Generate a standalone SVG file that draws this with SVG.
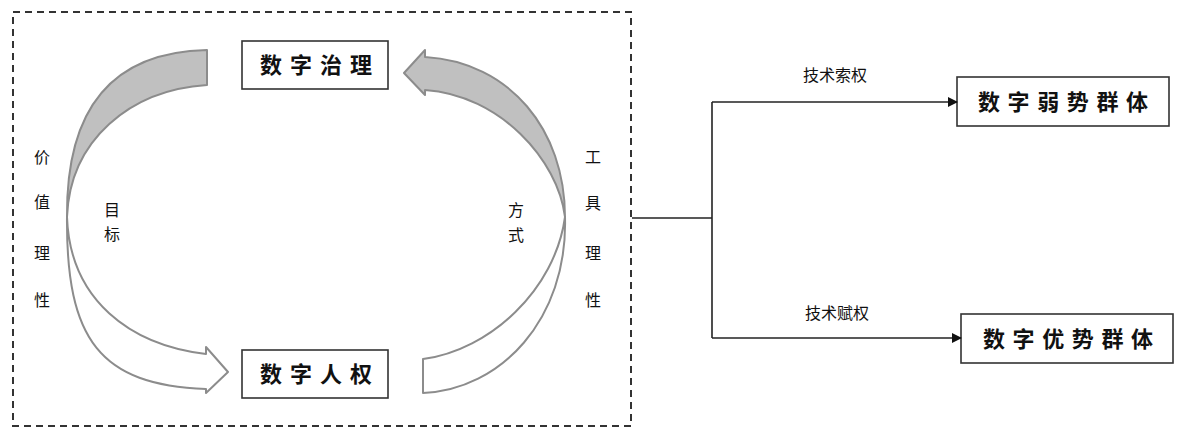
<svg xmlns="http://www.w3.org/2000/svg" width="1179" height="429" viewBox="0 0 1179 429">
<style>
.frame{fill:none;stroke:#333;stroke-width:2;stroke-dasharray:7,5}
.box{fill:#fff;stroke:#333;stroke-width:1.6}
.band{stroke:#8c8c8c;stroke-width:2;stroke-linejoin:round}
.gray{fill:#c0c0c0}
.white{fill:#fff}
.conn{fill:none;stroke:#222;stroke-width:1.6}
.node{font-family:"Noto Sans CJK SC",sans-serif;font-size:22px;font-weight:bold;fill:#111}
.lbl{font-family:"Noto Sans CJK SC",sans-serif;font-size:16px;fill:#111;text-anchor:middle}
</style>
<defs>
<marker id="arr" markerWidth="10" markerHeight="10" refX="9" refY="5" orient="auto" markerUnits="userSpaceOnUse">
<path d="M0,0 L10,5 L0,10 Z" fill="#111"/>
</marker>
</defs>
<rect class="frame" x="13" y="12" width="618" height="414"/>

<g id="bands">
<path class="band gray" d="M67,217 C66,110 110,52 207,50 L207,85 C130,90 70,140 67,217 Z"/>
<path class="band white" d="M67,217 C70,300 130,345 206,354 L206,347 L228,372 L206,393 L206,389 C100,385 66,340 67,217 Z"/>
<path class="band gray" d="M565,217 C565,130 510,62 425,57 L425,50 L404,73 L425,95 L425,90 C500,95 558,160 565,217 Z"/>
<path class="band white" d="M565,217 C555,290 490,350 423,359 L423,393 C500,390 568,320 565,217 Z"/>
</g>

<g id="node-zhili">
<rect class="box" x="242" y="41" width="146" height="48"/>
<text class="node" x="260" y="73" letter-spacing="8">数字治理</text>
</g>
<g id="node-renquan">
<rect class="box" x="242" y="350" width="146" height="48"/>
<text class="node" x="260" y="382" letter-spacing="8">数字人权</text>
</g>
<g id="node-ruoshi">
<rect class="box" x="957" y="77" width="212" height="49"/>
<text class="node" x="978" y="110" letter-spacing="7.6">数字弱势群体</text>
</g>
<g id="node-youshi">
<rect class="box" x="961" y="314" width="212" height="49"/>
<text class="node" x="983" y="347" letter-spacing="7.6">数字优势群体</text>
</g>

<g id="connectors">
<path class="conn" d="M632,218 L712,218"/>
<path class="conn" d="M712,102 L712,338"/>
<path class="conn" d="M712,102 L957,102" marker-end="url(#arr)"/>
<path class="conn" d="M712,338 L961,338" marker-end="url(#arr)"/>
</g>

<g id="labels">
<text class="lbl" x="835" y="81">技术索权</text>
<text class="lbl" x="837" y="319">技术赋权</text>
<text class="lbl" x="42" y="163">价</text>
<text class="lbl" x="42" y="208">值</text>
<text class="lbl" x="42" y="259">理</text>
<text class="lbl" x="42" y="306">性</text>
<text class="lbl" x="593" y="163">工</text>
<text class="lbl" x="593" y="209">具</text>
<text class="lbl" x="593" y="259">理</text>
<text class="lbl" x="593" y="306">性</text>
<text class="lbl" x="112" y="216">目</text>
<text class="lbl" x="112" y="240">标</text>
<text class="lbl" x="516" y="216">方</text>
<text class="lbl" x="516" y="241">式</text>
</g>
</svg>
